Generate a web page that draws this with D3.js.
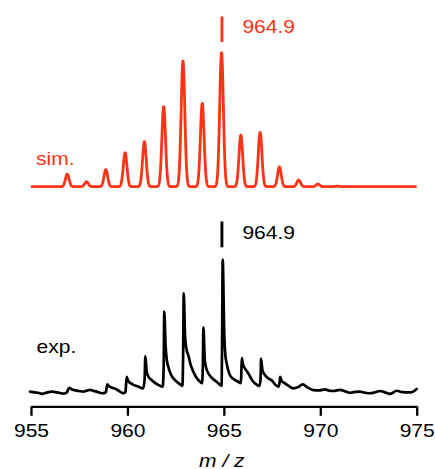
<!DOCTYPE html>
<html><head><meta charset="utf-8">
<script src="https://cdn.jsdelivr.net/npm/d3@7"></script>
<style>
body{margin:0;background:#fff}
svg{display:block}
text{font-family:"Liberation Sans",Arial,Helvetica,sans-serif}
</style>
</head><body>
<svg id="chart" width="435" height="469"></svg>
<script>
// ---- data ----
const xTicks = [955, 960, 965, 970, 975];
const simMz = [956.88, 957.88, 958.88, 959.88, 960.88, 961.88, 962.88, 963.88, 964.88, 965.88, 966.88, 967.88, 968.88, 969.88, 970.88];
const simIntensity = [9.4, 3.7, 12.8, 25.4, 33.6, 59.8, 93.9, 62.2, 100, 38.5, 40.5, 14.8, 5.0, 2.0, 0.5];
const expMz = [
  954.95, 955.20, 955.37, 955.57, 955.86, 956.07, 956.30, 956.50, 956.70, 956.85, 956.98, 957.10, 957.30, 957.50, 957.71, 957.90, 958.06, 958.20, 958.40, 958.67, 958.88,
  958.96, 959.05, 959.20, 959.40, 959.60, 959.79, 959.90,
  959.96, 960.04, 960.24, 960.55, 960.82, 960.89,
  960.93, 961.00, 961.10, 961.26, 961.55, 961.83, 961.88,
  961.91, 961.98, 962.05, 962.12, 962.25, 962.47, 962.70, 962.85, 962.89,
  962.92, 962.99, 963.06, 963.16, 963.28, 963.42, 963.60, 963.77, 963.87, 963.91,
  963.94, 964.01, 964.10, 964.20, 964.40, 964.63, 964.88, 964.91,
  964.94, 965.02, 965.08, 965.15, 965.32, 965.50, 965.75, 965.87, 965.90,
  965.93, 966.00, 966.10, 966.27, 966.45, 966.62, 966.85, 966.90,
  966.93, 967.00, 967.14, 967.30, 967.48, 967.65, 967.83, 967.89,
  967.92, 968.00, 968.17, 968.40, 968.60, 968.85, 969.09, 969.35, 969.64, 969.95,
  970.25, 970.45, 970.68, 971.03, 971.30, 971.55, 971.80, 972.06, 972.30, 972.58, 972.85, 973.10, 973.35, 973.62, 973.97, 974.25, 974.57, 974.80, 975.0];
const expIntensity = [
  1.0, 0.4, 0.2, -0.7, 0.5, 1.0, 0.6, 0.0, -0.5, 0.2, 3.9, 2.8, 2.0, 1.5, 1.0, 1.8, 2.4, 1.8, 1.0, -0.2, 0.6,
  6.4, 5.0, 4.0, 3.0, 1.2, -0.2, 0.8,
  12.1, 9.0, 6.7, 4.8, 3.5, 10.0,
  27.4, 16.0, 12.0, 9.6, 6.5, 4.7, 20.0,
  61.0, 35.0, 24.0, 19.5, 14.0, 9.6, 6.8, 5.4, 30.0,
  74.6, 42.0, 33.0, 28.1, 21.0, 15.8, 11.0, 8.4, 7.4, 20.0,
  49.1, 25.0, 18.0, 14.6, 11.0, 8.4, 5.4, 40.0,
  100, 45.0, 28.0, 22.0, 13.3, 10.5, 8.4, 7.4, 12.0,
  26.1, 21.0, 18.3, 14.6, 10.0, 7.2, 5.4, 10.0,
  25.7, 17.0, 13.3, 11.0, 9.6, 6.5, 4.7, 8.0,
  12.1, 9.0, 7.2, 5.0, 3.5, 4.4, 6.4, 4.0, 2.2, 2.0,
  2.7, 1.8, 1.5, 2.4, 1.2, 0.2, 0.8, 1.0, 0.3, -0.2, 0.6, 1.5, 0.5, -0.7, 1.7, 0.6, 0.4, 1.0, 3.0];
const annotationMz = 964.9;
const annotationLabel = "964.9";
const seriesLabels = ["sim.", "exp."];
const axisTitle = "m / z";

// ---- drawing ----
const simColor = "#ff3315";
const svg = d3.select("#chart");
const x = d3.scaleLinear().domain([955, 975]).range([31, 416.7]);
const ySim = d3.scaleLinear().domain([0, 100]).range([186.7, 52.8]);
const yExp = d3.scaleLinear().domain([0, 100]).range([393, 259.5]);
const sigma = 0.095;

// simulated profile: gaussian-broadened stick spectrum
const grid = d3.range(955, 975.0001, 0.005);
const simProfile = grid.map(m => {
  let v = 0;
  simMz.forEach((c, i) => { v += simIntensity[i] * Math.exp(-0.5 * ((m - c) / sigma) ** 2); });
  return [m, v];
});

svg.append("path")
  .datum(simProfile)
  .attr("fill", "none")
  .attr("stroke", simColor)
  .attr("stroke-width", 2.8)
  .attr("stroke-linejoin", "round")
  .attr("d", d3.line().x(d => x(d[0])).y(d => ySim(d[1])));

const expData = expMz.map((m, i) => [m, expIntensity[i]]);
svg.append("path")
  .datum(expData)
  .attr("fill", "none")
  .attr("stroke", "#000")
  .attr("stroke-width", 2.7)
  .attr("stroke-linejoin", "round")
  .attr("stroke-linecap", "round")
  .attr("d", d3.line().curve(d3.curveMonotoneX).x(d => x(d[0])).y(d => yExp(d[1])));

// annotation markers
const markers = [
  {color: simColor, y1: 16.5, y2: 42, ty: 33.3},
  {color: "#000", y1: 221.5, y2: 247.3, ty: 239.3}
];
markers.forEach(mk => {
  svg.append("line")
    .attr("x1", x(annotationMz)).attr("x2", x(annotationMz))
    .attr("y1", mk.y1).attr("y2", mk.y2)
    .attr("stroke", mk.color).attr("stroke-width", 2.9);
  svg.append("text")
    .attr("transform", `translate(${x(annotationMz) + 20.5},${mk.ty}) scale(1.12,1)`)
    .attr("font-size", 18.8)
    .attr("fill", mk.color)
    .text(annotationLabel);
});

// series labels
svg.append("text")
  .attr("transform", "translate(36,165) scale(1.12,1)")
  .attr("font-size", 18.8).attr("fill", simColor).text(seriesLabels[0]);
svg.append("text")
  .attr("transform", "translate(36.5,352.7) scale(1.12,1)")
  .attr("font-size", 18.8).attr("fill", "#000").text(seriesLabels[1]);

// x axis
const axisY = 406.3;
const gAxis = svg.append("g")
  .attr("transform", `translate(0,${axisY})`)
  .call(d3.axisBottom(x).tickValues(xTicks).tickSize(9.5).tickSizeOuter(0).tickFormat(d3.format("d")));
gAxis.select(".domain").attr("stroke", "#000").attr("stroke-width", 2.3);
gAxis.selectAll(".tick line").attr("stroke", "#000").attr("stroke-width", 2.3);
gAxis.selectAll(".tick text")
  .attr("y", 31).attr("dy", null)
  .attr("transform", "scale(1.12,1)")
  .attr("font-size", 18.8)
  .attr("font-family", "\"Liberation Sans\",Arial,Helvetica,sans-serif")
  .attr("fill", "#000");

svg.append("text")
  .attr("transform", `translate(${x(965) - 2},466.5) scale(1.12,1)`)
  .attr("text-anchor", "middle")
  .attr("font-size", 18.8)
  .attr("font-style", "italic")
  .attr("fill", "#000")
  .text(axisTitle);
</script>
</body></html>
